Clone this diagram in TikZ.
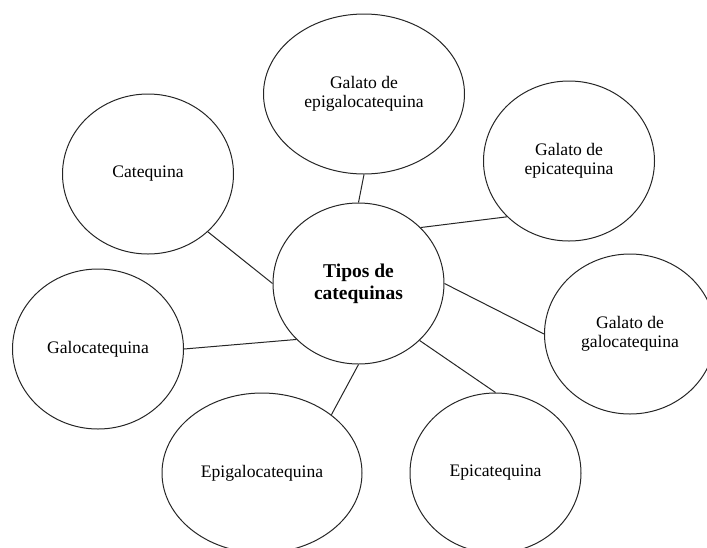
\documentclass[tikz,border=0pt]{standalone}
\usepackage{fontspec}
\setmainfont{Liberation Serif}
\usetikzlibrary{shapes.geometric}

\begin{document}
\begin{tikzpicture}[x=1pt,y=-1pt,
  blase/.style={ellipse,draw=black!85,line width=1pt,inner sep=0pt,minimum width=171pt,minimum height=160pt,align=center,font=\fontsize{17.6}{19}\selectfont},
  linie/.style={black!85,line width=1pt}]
%Rahmen wie im Original
\useasboundingbox (0,0) rectangle (707,547);
%Mitte
\node[blase,minimum height=161pt,font=\fontsize{19.5}{22}\selectfont\bfseries] (tipos) at (358.5,283.5) {Tipos de\\catequinas};
%Aussen
\node[blase,minimum width=201pt] (galepigal) at (364,94) {Galato de\\epigalocatequina};
\node[blase] (galepi) at (569,161) {Galato de\\epicatequina};
\node[blase] (cat) at (148,174) {Catequina};
\node[blase] (galo) at (98,349) {Galocatequina};
\node[blase] (galgalo) at (630,334) {Galato de\\galocatequina};
\node[blase,minimum width=200pt] (epigalo) at (262,473) {Epigalocatequina};
\node[blase] (epi) at (495.5,473) {Epicatequina};
%Verbindungen: Winkel an der Mitte / Name / Winkel aussen
\foreach \a/\n/\b in {90/galepigal/270,42/galepi/222,0/galgalo/180,-43/epi/90,270/epigalo/40,222/galo/0,180/cat/316}{
\draw[linie] (tipos.\a) -- (\n.\b);
}
\end{tikzpicture}
\end{document}
